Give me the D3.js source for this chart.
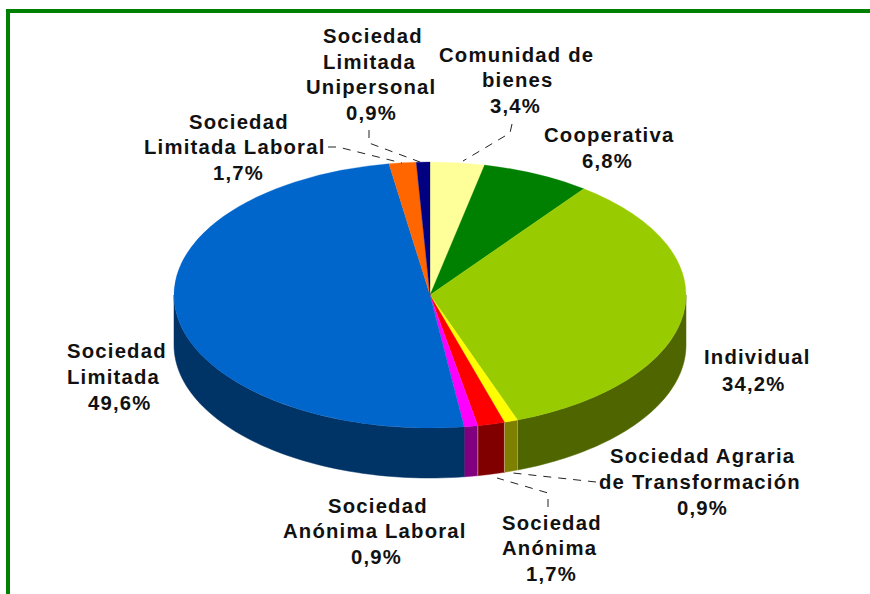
<!DOCTYPE html>
<html><head><meta charset="utf-8">
<script src="https://cdn.jsdelivr.net/npm/d3@7"></script>
<style>html,body{margin:0;padding:0;background:#fff}svg{display:block}text{font-family:"Liberation Sans",Arial,sans-serif;font-weight:700;font-size:20.3px;letter-spacing:1.2px;fill:#111}</style>
</head><body><svg id="c" width="870" height="594"></svg>
<script>
const categories=["Comunidad de bienes","Cooperativa","Individual","Sociedad Agraria de Transformación","Sociedad Anónima","Sociedad Anónima Laboral","Sociedad Limitada","Sociedad Limitada Laboral","Sociedad Limitada Unipersonal"];
const values=[3.42,6.84,34.19,0.855,1.71,0.855,49.57,1.71,0.855];
const topColors=["#ffff99","#008000","#99cc00","#ffff00","#ff0000","#ff00ff","#0066cc","#ff6600","#000080"];
const wallColors=["#808066","#004000","#4f6600","#808000","#800000","#800080","#003366","#803300","#000040"];
const labelLines=[["Comunidad de","bienes","3,4%"],["Cooperativa","6,8%"],["Individual","34,2%"],["Sociedad Agraria","de Transformación","0,9%"],["Sociedad","Anónima","1,7%"],["Sociedad","Anónima Laboral","0,9%"],["Sociedad","Limitada","49,6%"],["Sociedad","Limitada Laboral","1,7%"],["Sociedad","Limitada","Unipersonal","0,9%"]];

// layout
const cx=430,cy=295,rx=256,ry=133,depth=50;
const labelPos=[[[439,62],[482,87],[490,113]],[[544,142],[582,168]],[[704,364],[722,391]],[[610,463],[599,489],[677,515]],[[502,530],[502,555],[526,581]],[[328,513],[283,538],[351,564]],[[67,358],[67,384],[88,410]],[[189,129],[144,154],[213,180]],[[323,43],[323,69],[306,94],[346,120]]];
const leaderElbows={0:[[512,124],[510,133]],3:[[596,482]],4:[[548,507],[548,493]],7:[[328,147],[338,147]],8:[[369,130],[369,143]]};
const leaderEnds={0:[463,161],3:[513,473],4:[497,478],7:[402,163],8:[420,162]};

const svg=d3.select("#c");
// frame
svg.append("rect").attr("x",6).attr("y",9).attr("width",864).attr("height",4).attr("fill","#008000");
svg.append("rect").attr("x",6).attr("y",9).attr("width",4).attr("height",585).attr("fill","#008000");

const pie=d3.pie().sort(null).value(d=>d)(values);
const px=d3.scaleLinear().domain([-1,1]).range([cx-rx,cx+rx]);
const py=d3.scaleLinear().domain([-1,1]).range([cy-ry,cy+ry]);
const ptX=a=>px(Math.sin(a)),ptY=a=>py(-Math.cos(a));

// walls: visible between 90° and 270°
const lo=Math.PI/2,hi=Math.PI*1.5;
const line=d3.line();
const walls=svg.append("g");
pie.forEach((s,i)=>{
  const a0=Math.max(s.startAngle,lo),a1=Math.min(s.endAngle,hi);
  if(a1<=a0)return;
  const as=d3.range(0,61).map(k=>a0+(a1-a0)*k/60);
  const pts=as.map(a=>[ptX(a),ptY(a)]).concat(as.slice().reverse().map(a=>[ptX(a),ptY(a)+depth]));
  walls.append("path").attr("d",line(pts)+"Z").attr("fill",wallColors[i]).attr("stroke",wallColors[i]).attr("stroke-width",.5);
});
// light edges on small walls
[3,4].forEach(i=>{
  [pie[i].startAngle,pie[i].endAngle].forEach(a=>{
    walls.append("line").attr("x1",ptX(a)).attr("x2",ptX(a)).attr("y1",ptY(a)).attr("y2",ptY(a)+depth).attr("stroke","#b8a070").attr("stroke-width",.8);
  });
});
// top
const arc=d3.arc().innerRadius(0).outerRadius(rx);
svg.append("g").attr("transform",`translate(${cx},${cy}) scale(1,${ry/rx})`)
 .selectAll("path").data(pie).join("path").attr("d",arc)
 .attr("fill",(d,i)=>topColors[i]).attr("stroke",(d,i)=>topColors[i]).attr("stroke-width",.4);

// leaders
Object.keys(leaderEnds).forEach(k=>{
  const el=leaderElbows[k];
  svg.append("path").attr("d",line(el.concat([leaderEnds[k]]))).attr("fill","none").attr("stroke","#222").attr("stroke-width",1).attr("stroke-dasharray","8 7");
});
// labels
labelLines.forEach((ls,i)=>ls.forEach((t,j)=>{
  svg.append("text").attr("x",labelPos[i][j][0]).attr("y",labelPos[i][j][1]).text(t);
}));
</script></body></html>
